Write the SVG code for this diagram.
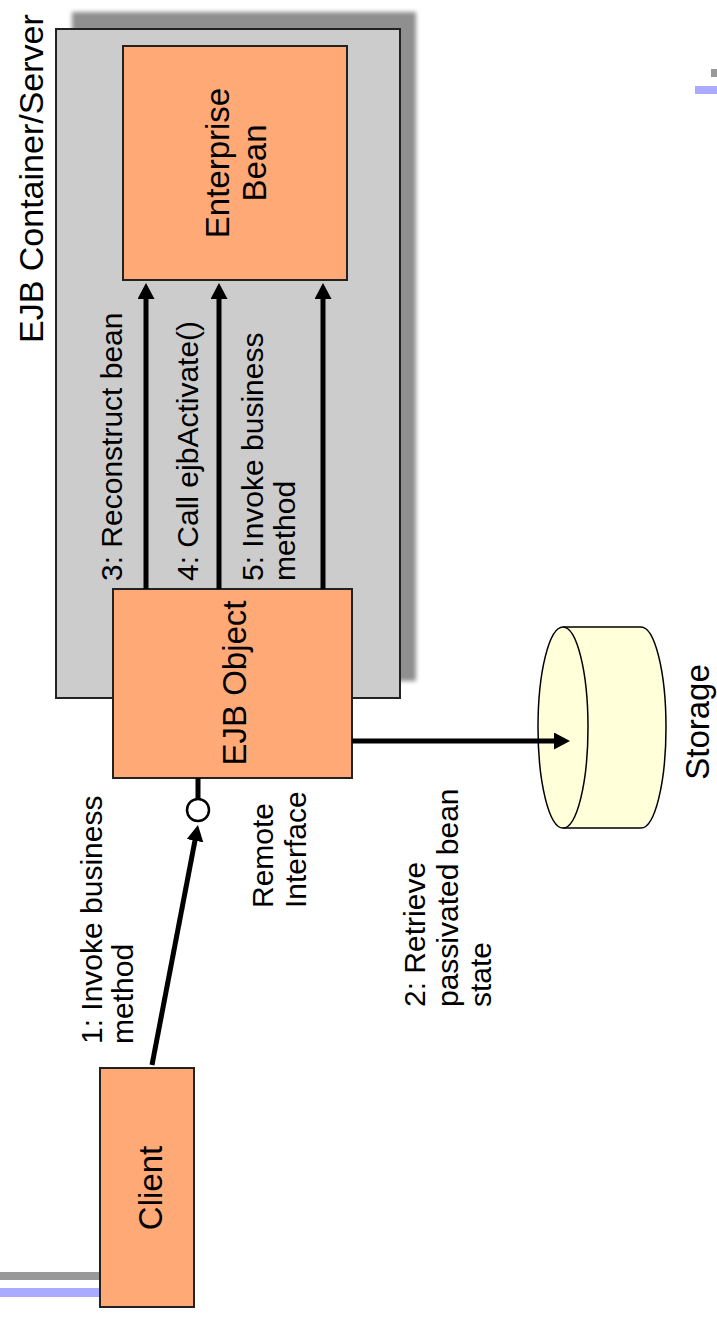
<svg xmlns="http://www.w3.org/2000/svg" width="717" height="1317" viewBox="0 0 717 1317">
<style>
.node{fill:#FFA977;stroke:#222;stroke-width:2}
.lbl{font-family:"Liberation Sans",Arial,sans-serif;fill:#000}
.nl{font-size:33px}
.el{font-size:30px}
.conn{stroke:#000;stroke-width:5;fill:none}
</style>
<defs>
<filter id="blur" x="-5%" y="-5%" width="110%" height="110%"><feGaussianBlur stdDeviation="2"/></filter>
<marker id="ah" viewBox="0 0 16 17" refX="4" refY="8.5" markerWidth="16" markerHeight="17" markerUnits="userSpaceOnUse" orient="auto">
<path d="M0,0 L16,8.5 L0,17 z" fill="#000"/>
</marker>
</defs>
<rect width="717" height="1317" fill="#fff"/>
<g id="decor">
<rect x="0" y="1272" width="100" height="8" fill="#999"/>
<rect x="0" y="1288" width="100" height="9" fill="#aaaaff"/>
<rect x="711" y="69" width="6" height="8" fill="#999"/>
<rect x="695" y="86" width="22" height="8" fill="#aaaaff"/>
</g>
<g id="container">
<rect x="72" y="12" width="344" height="669" fill="#8f8f8f" filter="url(#blur)"/>
<rect x="56" y="29" width="344" height="669" fill="#cccccc" stroke="#222" stroke-width="2"/>
<text class="lbl" font-size="34" transform="translate(43,343) rotate(-90)">EJB Container/Server</text>
</g>
<g id="enterprise-bean">
<rect class="node" x="123" y="46" width="224" height="234"/>
<text class="lbl nl" text-anchor="middle" transform="translate(229,163) rotate(-90)">Enterprise</text>
<text class="lbl nl" text-anchor="middle" transform="translate(266,163) rotate(-90)">Bean</text>
</g>
<g id="ejb-object">
<rect class="node" x="113" y="589" width="239" height="189"/>
<text class="lbl nl" text-anchor="middle" transform="translate(246,683) rotate(-90)">EJB Object</text>
</g>
<g id="client">
<rect class="node" x="100" y="1068" width="94" height="239"/>
<text class="lbl nl" text-anchor="middle" transform="translate(162,1188) rotate(-90)">Client</text>
</g>
<g id="storage">
<path d="M563,627 L641,627 A25,100.5 0 0 1 641,828 L563,828 Z" fill="#ffffd9" stroke="none"/>
<path d="M563,627 L641,627 A25,100.5 0 0 1 641,828 L563,828" fill="none" stroke="#000" stroke-width="1.5"/>
<ellipse cx="563" cy="727.5" rx="25" ry="100.5" fill="#ffffd9" stroke="#000" stroke-width="1.5"/>
<text class="lbl nl" text-anchor="middle" transform="translate(709,722) rotate(-90)">Storage</text>
</g>
<g id="remote-interface">
<line x1="198" y1="778" x2="198" y2="798.5" stroke="#000" stroke-width="5"/>
<circle cx="198" cy="810" r="11" fill="#fff" stroke="#000" stroke-width="2.5"/>
<text class="lbl el" transform="translate(273,908) rotate(-90)">Remote</text>
<text class="lbl el" transform="translate(306,908) rotate(-90)">Interface</text>
</g>
<g id="connectors">
<line class="conn" x1="152" y1="1065" x2="195.7" y2="836.8" marker-end="url(#ah)"/>
<line class="conn" x1="352" y1="741" x2="558" y2="741" marker-end="url(#ah)"/>
<line class="conn" x1="146" y1="589" x2="146" y2="295" marker-end="url(#ah)"/>
<line class="conn" x1="219" y1="589" x2="219" y2="295" marker-end="url(#ah)"/>
<line class="conn" x1="323" y1="589" x2="323" y2="295" marker-end="url(#ah)"/>
</g>
<g id="labels">
<text class="lbl el" transform="translate(102,1044) rotate(-90)">1: Invoke business</text>
<text class="lbl el" transform="translate(133,1044) rotate(-90)">method</text>
<text class="lbl el" transform="translate(425,1007) rotate(-90)">2: Retrieve</text>
<text class="lbl el" transform="translate(458,1007) rotate(-90)">passivated bean</text>
<text class="lbl el" transform="translate(491,1007) rotate(-90)">state</text>
<text class="lbl el" transform="translate(122,581) rotate(-90)">3: Reconstruct bean</text>
<text class="lbl el" transform="translate(198,581) rotate(-90)">4: Call ejbActivate()</text>
<text class="lbl el" transform="translate(263,581) rotate(-90)">5: Invoke business</text>
<text class="lbl el" transform="translate(295,581) rotate(-90)">method</text>
</g>
</svg>
